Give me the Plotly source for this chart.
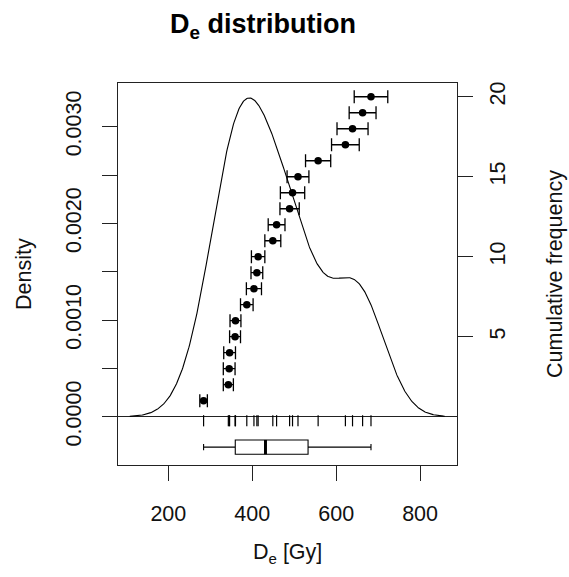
import numpy as np
import plotly.graph_objects as go

# ---- data ----
de_values = [284, 343, 345, 346, 359, 360, 387, 404, 411, 414,
             449, 458, 489, 496, 509, 557, 622, 639, 663, 683]
de_errors = [9, 12, 14, 14, 13, 13, 15, 18, 14, 16,
             19, 20, 23, 29, 26, 30, 33, 37, 32, 40]
cum_freq = list(range(1, len(de_values) + 1))

x_ticks = [200, 400, 600, 800]
density_ticks = [0.0, 0.0010, 0.0020, 0.0030]
density_ticktext = ["0.0000", "0.0010", "0.0020", "0.0030"]
freq_ticks = [5, 10, 15, 20]

# ---- kernel density estimate (R density(), bw.nrd0) ----
d = np.array(de_values, dtype=float)
n = d.size
iqr = np.percentile(d, 75) - np.percentile(d, 25)
bw = 0.9 * min(d.std(ddof=1), iqr / 1.34) * n ** -0.2
grid = np.linspace(d.min() - 3 * bw, d.max() + 3 * bw, 512)
dens = np.exp(-0.5 * ((grid[:, None] - d[None, :]) / bw) ** 2).sum(axis=1) / (n * bw * np.sqrt(2 * np.pi))

FONT = "Liberation Sans, Arial, sans-serif"
W, H = 569, 577
L, R, T, B = 118, 112, 83, 112

box_y = -0.000314
box_w = 0.000148
rug_len = 8

fig = go.Figure()

# density curve
fig.add_trace(go.Scatter(x=grid, y=dens, mode="lines",
                         line=dict(color="black", width=1.1),
                         hoverinfo="skip", showlegend=False))

# rug
fig.add_trace(go.Scatter(x=de_values, y=[-0.0000415] * n, mode="markers",
                         marker=dict(symbol="line-ns-open", size=rug_len, color="black",
                                     line=dict(color="black", width=1.2)),
                         showlegend=False))

# boxplot
fig.add_trace(go.Box(x=de_values, y0=box_y, orientation="h", width=box_w,
                     boxpoints=False, quartilemethod="exclusive",
                     fillcolor="white", line=dict(color="black", width=1.1),
                     whiskerwidth=0.45, showlegend=False))
med = float(np.median(d))
fig.add_trace(go.Scatter(x=[med, med], y=[box_y - box_w / 2, box_y + box_w / 2],
                         mode="lines", line=dict(color="black", width=3),
                         showlegend=False))

# cumulative frequency points with error bars
fig.add_trace(go.Scatter(x=de_values, y=cum_freq, yaxis="y2", mode="markers",
                         marker=dict(color="black", size=7.5),
                         error_x=dict(type="data", array=de_errors, visible=True,
                                      color="black", thickness=1.3, width=6.5),
                         showlegend=False))

tickfont = dict(family=FONT, size=21.5, color="#111")

fig.update_layout(
    width=W, height=H,
    margin=dict(l=L, r=R, t=T, b=B, pad=0),
    paper_bgcolor="white", plot_bgcolor="white",
    font=dict(family=FONT, color="#111"),
    title=dict(text="<b>D<sub>e</sub> distribution</b>",
               font=dict(family=FONT, size=27, color="black"),
               x=263 / W, xanchor="center", y=1 - 24 / H, yanchor="middle"),
    xaxis=dict(range=[80, 888], tickvals=x_ticks, ticks="outside", ticklen=15,
               tickwidth=1, tickcolor="#222", showgrid=False, zeroline=False,
               showline=True, linecolor="#222", linewidth=1, mirror=True,
               tickfont=tickfont, ticklabelstandoff=14),
    yaxis=dict(range=[-0.000499, 0.003452], tickvals=density_ticks,
               ticktext=density_ticktext, tickangle=-90, ticks="outside",
               ticklen=15, tickwidth=1, tickcolor="#222", showgrid=False,
               minor=dict(tick0=0, dtick=0.0005, ticks="outside", ticklen=15,
                          tickwidth=1, tickcolor="#222", showgrid=False),
               zeroline=True, zerolinecolor="#222", zerolinewidth=1,
               showline=True, linecolor="#222", linewidth=1, mirror=True,
               tickfont=tickfont, ticklabelstandoff=12),
    yaxis2=dict(range=[-3.02, 20.86], overlaying="y", side="right",
                tickvals=freq_ticks, tickangle=-90, ticks="outside",
                ticklen=15, tickwidth=1, tickcolor="#222", showgrid=False,
                zeroline=False, showline=False, tickfont=tickfont,
                ticklabelstandoff=6),
    annotations=[
        dict(text="Density", xref="paper", yref="paper",
             x=(24 - L) / (W - L - R), y=0.5, textangle=-90,
             showarrow=False, font=dict(family=FONT, size=21.5, color="#111"),
             xanchor="center", yanchor="middle"),
        dict(text="Cumulative frequency", xref="paper", yref="paper",
             x=(555 - L) / (W - L - R), y=0.5, textangle=-90,
             showarrow=False, font=dict(family=FONT, size=21.5, color="#111"),
             xanchor="center", yanchor="middle"),
        dict(text="D<sub>e</sub> [Gy]", xref="paper", yref="paper",
             x=0.5, y=(H - B - 553) / (H - T - B),
             showarrow=False, font=dict(family=FONT, size=21.5, color="#111"),
             xanchor="center", yanchor="middle"),
    ],
)

fig.write_html("out.html")
